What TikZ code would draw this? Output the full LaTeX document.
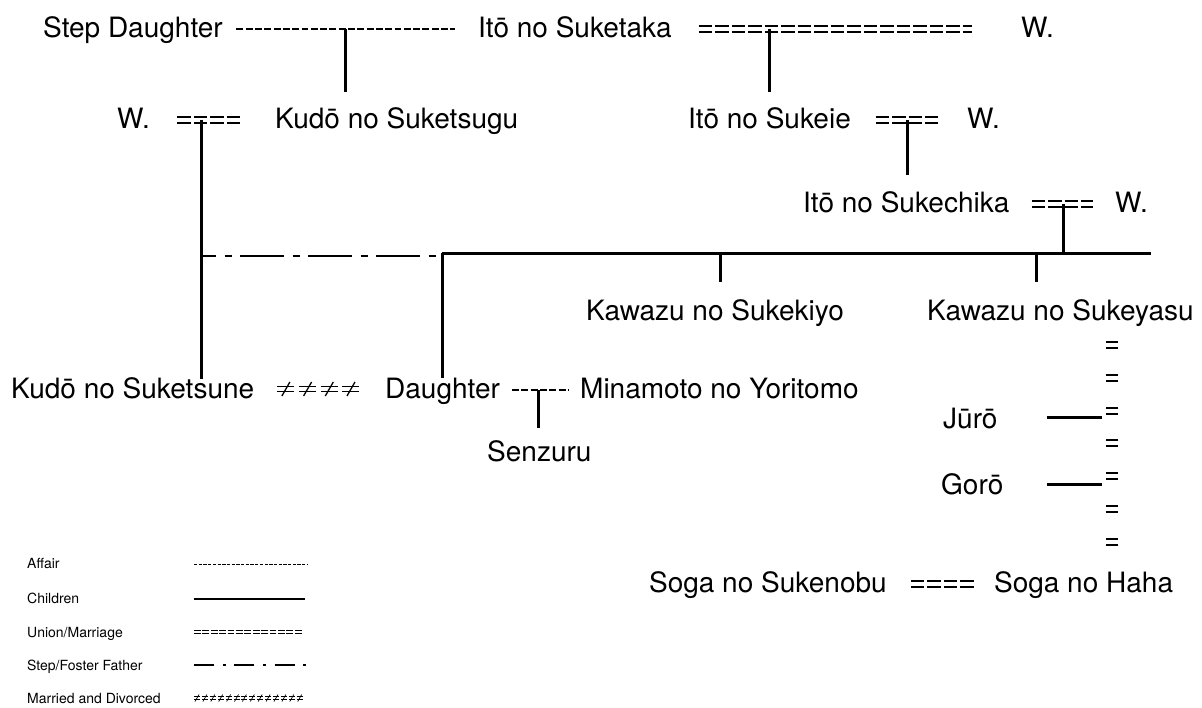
\documentclass[tikz,border=0pt]{standalone}
\usepackage{fontspec}
\setmainfont{TeX Gyre Heros}
\usetikzlibrary{calc,decorations.markings}

\begin{document}
\begin{tikzpicture}[x=1pt,y=-1pt,
  person/.style={font=\fontsize{28}{34}\selectfont, inner sep=0pt, anchor=base west},
  keytext/.style={font=\fontsize{14}{17}\selectfont, inner sep=0pt, anchor=base west},
  % relation lines of the tree
  affair/.style={line width=2pt, dash pattern=on 6.9pt off 2.4pt},
  child/.style={line width=3pt},
  union/.style={double, double distance=4pt, line width=2pt, dash pattern=on 13.6pt off 2.9pt},
  divorced/.style={double, double distance=3.2pt, line width=1.4pt, dash pattern=on 17pt off 4.7pt,
    postaction={decorate, decoration={markings,
      mark=between positions 8.5pt and 1 step 21.7pt with {\draw[solid, line width=1.3pt] (-4,7) -- (4,-7);}}}},
  stepfather/.style={line width=2.6pt, dash pattern=on 44pt off 8.5pt on 7.5pt off 8pt, dash phase=29pt},
  eqcolumn/.style={decoration={markings,
      mark=between positions 0 and 1 step 32.8pt with {\draw[line width=2pt] (-3,-6) -- (-3,6) (3,-6) -- (3,6);}},
    decorate},
  % thinner versions for the key
  key affair/.style={line width=0.9pt, dash pattern=on 3.3pt off 1.4pt},
  key child/.style={line width=1.4pt},
  key union/.style={double, double distance=1.6pt, line width=0.9pt, dash pattern=on 6.7pt off 1.7pt},
  key step/.style={line width=1.4pt, dash pattern=on 20pt off 8.5pt on 3pt off 8.8pt},
  key divorced/.style={double, double distance=1.6pt, line width=0.8pt, dash pattern=on 6pt off 1.9pt,
    postaction={decorate, decoration={markings,
      mark=between positions 3pt and 1 step 7.9pt with {\draw[solid, line width=0.7pt] (-2,3.5) -- (2,-3.5);}}}},
]
\fill[white] (0,0) rectangle (1202,707);
\useasboundingbox (0,0) rectangle (1202,707);

% ---- people ----
\node[person] (stepd)     at (43,37)   {Step Daughter};
\node[person] (suketaka)  at (478,37)  {Itō no Suketaka};
\node[person] (w1)        at (1021,37) {W.};

\node[person] (w2)        at (117,128) {W.};
\node[person] (suketsugu) at (275,128) {Kudō no Suketsugu};
\node[person] (sukeie)    at (688,128) {Itō no Sukeie};
\node[person] (w3)        at (967,128) {W.};

\node[person] (sukechika) at (803,212) {Itō no Sukechika};
\node[person] (w4)        at (1115,212) {W.};

\node[person] (sukekiyo)  at (586,320) {Kawazu no Sukekiyo};
\node[person] (sukeyasu)  at (927,320) {Kawazu no Sukeyasu};

\node[person] (suketsune) at (11,398)  {Kudō no Suketsune};
\node[person] (daughter)  at (385,398) {Daughter};
\node[person] (yoritomo)  at (580,398) {Minamoto no Yoritomo};
\node[person] (senzuru)   at (487,461) {Senzuru};

\node[person] (juro)      at (943,428) {Jūrō};
\node[person] (goro)      at (941,494) {Gorō};

\node[person] (sukenobu)  at (649,592) {Soga no Sukenobu};
\node[person] (haha)      at (994,592) {Soga no Haha};

% ---- relations ----
\draw[affair] ($(stepd.base east)+(13.5,-8)$) -- ($(suketaka.base west)+(-23,-8)$);
\draw[union]  ($(suketaka.base east)+(26.7,-8.5)$) -- ($(w1.base west)+(-49,-8.5)$);
\draw[union]  ($(w2.base east)+(27,-8.5)$) -- ($(suketsugu.base west)+(-35,-8.5)$);
\draw[union]  ($(sukeie.base east)+(24.6,-8.5)$) -- ($(w3.base west)+(-29,-8.5)$);
\draw[union]  ($(sukechika.base east)+(22,-8.5)$) -- ($(w4.base west)+(-22,-8.5)$);
\draw[divorced] ($(suketsune.base east)+(23,-9)$) -- ($(daughter.base west)+(-24,-9)$);
\draw[affair] ($(daughter.base east)+(12,-8)$) -- ($(yoritomo.base west)+(-12,-8)$);
\draw[union]  ($(sukenobu.base east)+(24,-8.5)$) -- ($(haha.base west)+(-20,-8.5)$);

% ---- descent ----
\coordinate (c1) at (345,29);
\coordinate (c2) at (769,28.5);
\coordinate (c3) at (201,119.5);
\coordinate (c4) at (907,119.5);
\coordinate (c5) at (1063,203.5);
\coordinate (c6) at (538,390);
\coordinate (k0) at (442,253);
\coordinate (k1) at (1151,253);
\coordinate (k2) at (720,253);
\coordinate (k3) at (1036,253);

\draw[child] (c1) -- ($(c1 |- suketsugu.base)+(0,-36)$);
\draw[child] (c2) -- ($(c2 |- sukeie.base)+(0,-36)$);
\draw[child] (c3) -- ($(c3 |- suketsune.base)+(0,-19)$);
\draw[child] (c4) -- ($(c4 |- sukechika.base)+(0,-37)$);
\draw[child] (c5) -- (c5 |- k0);
\draw[child] (k0) -- (k1);
\draw[child] (k0) -- ($(k0 |- daughter.base)+(0,-20)$);
\draw[child] (k2) -- ($(k2 |- sukekiyo.base)+(0,-38)$);
\draw[child] (k3) -- ($(k3 |- sukeyasu.base)+(0,-38)$);
\draw[child] (c6) -- ($(c6 |- senzuru.base)+(0,-33)$);
\draw[stepfather] ($(c3 |- k0)+(0,3)$) -- ($(k0)+(1,3)$);

% marriage of Sukeyasu to Soga no Haha, with the two sons
\coordinate (eqtop) at (1112,345);
\coordinate (eqbot) at (1112,542);
\path[eqcolumn] (eqtop) -- (eqbot);
\draw[child] ($(juro.base east)+(49,-11)$) -- ($(juro.base -| eqtop)+(-10,-11)$);
\draw[child] ($(goro.base east)+(43,-10)$) -- ($(goro.base -| eqtop)+(-10,-10)$);

% ---- key ----
\node[keytext] (kaffair) at (27,568) {Affair};
\node[keytext] (kchild)  at (27,603) {Children};
\node[keytext] (kunion)  at (27,637) {Union/Marriage};
\node[keytext] (kstep)   at (27,670) {Step/Foster Father};
\node[keytext] (kdiv)    at (27,703) {Married and Divorced};

\draw[key affair]   ($(kaffair.base west)+(167,-3.5)$) -- ($(kaffair.base west)+(280,-3.5)$);
\draw[key child]    ($(kchild.base west)+(167,-4)$) -- ($(kchild.base west)+(278,-4)$);
\draw[key union]    ($(kunion.base west)+(167,-5)$) -- ($(kunion.base west)+(276,-5)$);
\draw[key step]     ($(kstep.base west)+(167,-5)$) -- ($(kstep.base west)+(284,-5)$);
\draw[key divorced] ($(kdiv.base west)+(167,-5)$) -- ($(kdiv.base west)+(276,-5)$);
\end{tikzpicture}
\end{document}
